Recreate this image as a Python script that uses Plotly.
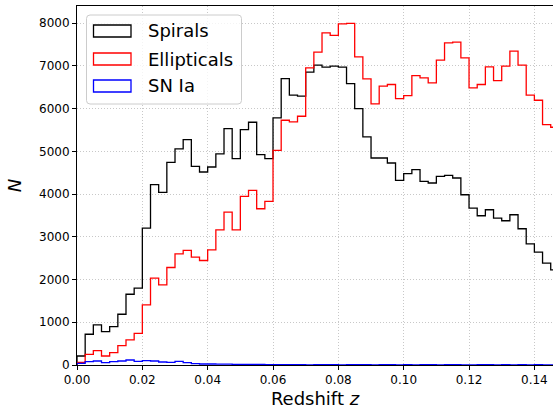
import numpy as np
import plotly.graph_objects as go

bin_width = 0.0025

spirals = [211, 719, 938, 781, 898, 1188, 1656, 1797, 3203, 4219,
           4039, 4742, 5055, 5273, 4648, 4516, 4633, 4938, 5531, 4828,
           5508, 5680, 4922, 4828, 5781, 6703, 6313, 6289, 6852, 7016,
           6969, 6992, 6969, 6586, 6000, 5336, 4844, 4844, 4727, 4320,
           4477, 4570, 4297, 4258, 4414, 4438, 4375, 3984, 3672, 3492,
           3633, 3438, 3375, 3516, 3188, 2836, 2641, 2383, 2227]

ellipticals = [60, 250, 336, 211, 289, 453, 586, 742, 1406, 2031,
               1875, 2281, 2602, 2680, 2523, 2445, 2695, 3164, 3578, 3164,
               3945, 4086, 3656, 3828, 5023, 5727, 5688, 5820, 6953, 7320,
               7773, 7711, 7984, 7992, 7211, 6695, 6109, 6523, 6563, 6234,
               6305, 6773, 6719, 6602, 7133, 7539, 7555, 7188, 6484, 6563,
               6977, 6656, 6992, 7344, 7016, 6313, 6195, 5625, 5563]

sn_ia = [39, 78, 94, 55, 78, 94, 117, 86, 101, 94,
         70, 62, 86, 55, 31, 23, 23, 20, 20, 15,
         15, 12, 12, 10, 8, 10, 6, 8, 5, 8,
         6, 9, 5, 7, 6, 8, 4, 7, 6, 5,
         8, 4, 6, 7, 4, 6, 8, 5, 4, 7,
         6, 4, 8, 5, 7, 4, 6, 5, 4]

series_names = ["Spirals", "Ellipticals", "SN Ia"]
series_colors = ["black", "#ff0000", "#0000ff"]
series_values = [spirals, ellipticals, sn_ia]

fig = go.Figure()

for name, color, vals in zip(series_names, series_colors, series_values):
    edges = np.arange(len(vals) + 1) * bin_width
    xs = [edges[0]] + list(edges)
    ys = [0] + list(vals) + [vals[-1]]
    fig.add_trace(go.Scatter(
        x=xs, y=ys, mode="lines", name=name,
        line=dict(color=color, width=1.3, shape="hv"),
        showlegend=False, hoverinfo="skip",
    ))

font_family = "DejaVu Sans"

# manual matplotlib-style legend (paper coordinates)
L, R, T, B = 77, 553, 6, 365
def px(x):
    return (x - L) / (R - L)
def py(y):
    return (B - y) / (B - T)

def rounded_rect(x0, y0, x1, y1, r):
    # pixel coords (y down) -> paper path
    pts = [
        f"M {px(x0 + r)},{py(y0)}",
        f"L {px(x1 - r)},{py(y0)}",
        f"Q {px(x1)},{py(y0)} {px(x1)},{py(y0 + r)}",
        f"L {px(x1)},{py(y1 - r)}",
        f"Q {px(x1)},{py(y1)} {px(x1 - r)},{py(y1)}",
        f"L {px(x0 + r)},{py(y1)}",
        f"Q {px(x0)},{py(y1)} {px(x0)},{py(y1 - r)}",
        f"L {px(x0)},{py(y0 + r)}",
        f"Q {px(x0)},{py(y0)} {px(x0 + r)},{py(y0)}",
        "Z",
    ]
    return " ".join(pts)

shapes = [dict(type="path", xref="paper", yref="paper",
               path=rounded_rect(86.5, 15, 241.5, 104, 3.5),
               line=dict(color="#cccccc", width=1), fillcolor="rgba(255,255,255,0.8)",
               layer="above")]
annotations = []
rows = [31, 59, 86]
for name, color, yc in zip(series_names, series_colors, rows):
    shapes.append(dict(type="rect", xref="paper", yref="paper",
                       x0=px(93.5), x1=px(131), y0=py(yc + 6), y1=py(yc - 6),
                       line=dict(color=color, width=1.3), fillcolor="rgba(0,0,0,0)",
                       layer="above"))
    annotations.append(dict(xref="paper", yref="paper", x=px(146), y=py(yc),
                            text=name, showarrow=False, xanchor="left", yanchor="middle",
                            font=dict(family=font_family, size=18, color="black")))

fig.update_layout(
    width=553, height=411,
    margin=dict(l=L, r=0, t=T, b=411 - B),
    paper_bgcolor="white", plot_bgcolor="white",
    font=dict(family=font_family, size=12, color="black"),
    shapes=shapes, annotations=annotations,
    showlegend=False,
)
grid_style = dict(showgrid=True, gridcolor="#c8c8c8", griddash="1px,2px", gridwidth=0.8)
fig.update_xaxes(
    range=[0, 0.1457], tickvals=[0, 0.02, 0.04, 0.06, 0.08, 0.10, 0.12, 0.14],
    ticktext=["0.00", "0.02", "0.04", "0.06", "0.08", "0.10", "0.12", "0.14"],
    ticks="outside", ticklen=4, tickwidth=1, tickcolor="black",
    showline=True, linecolor="black", linewidth=1, mirror=True,
    zeroline=False,
    title=dict(text="Redshift <i>z</i>", font=dict(size=18), standoff=5),
    tickfont=dict(size=12),
    **grid_style,
)
fig.update_yaxes(
    range=[0, 8400], tickvals=[0, 1000, 2000, 3000, 4000, 5000, 6000, 7000, 8000],
    ticks="outside", ticklen=4, tickwidth=1, tickcolor="black",
    showline=True, linecolor="black", linewidth=1, mirror=False,
    zeroline=False,
    title=dict(text="<i>N</i>", font=dict(size=18), standoff=12),
    tickfont=dict(size=12),
    **grid_style,
)

fig.write_html(
    "out.html",
    config={"displayModeBar": False},
    post_script="document.body.style.margin='0';document.body.style.overflow='hidden';",
)
